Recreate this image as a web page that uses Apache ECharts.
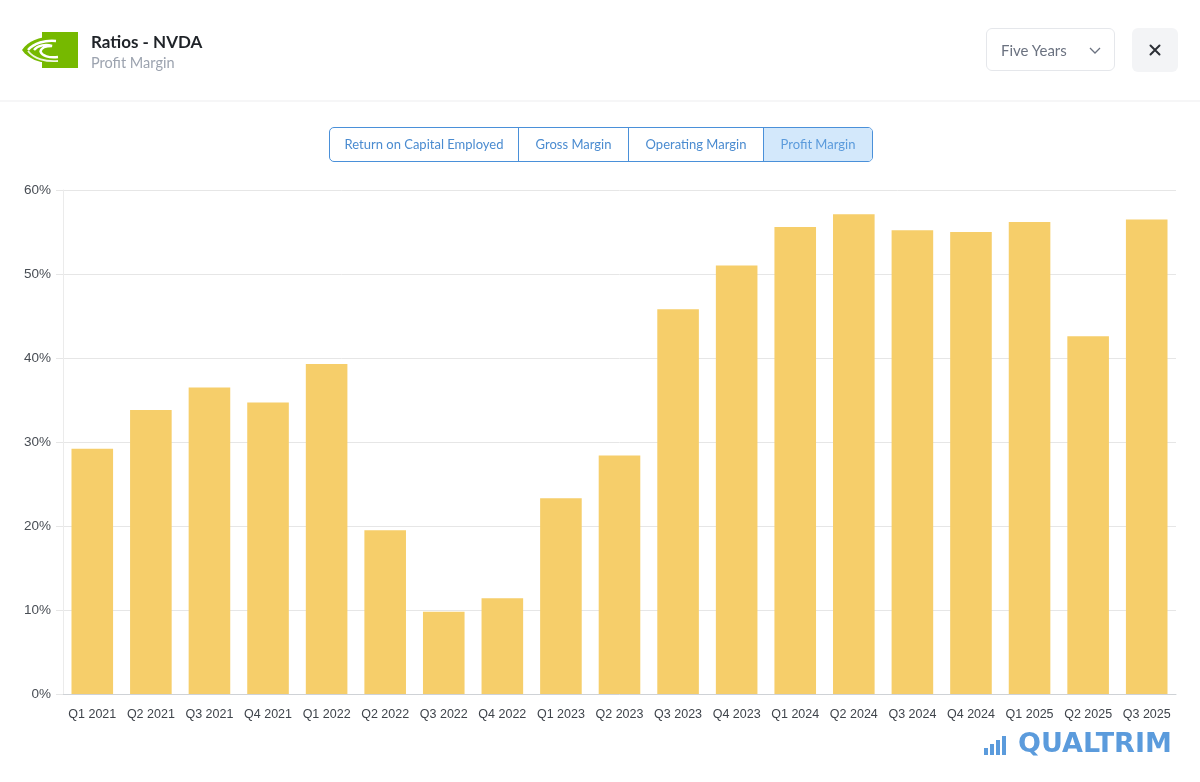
<!DOCTYPE html>
<html>
<head>
<meta charset="utf-8">
<script src="https://cdn.jsdelivr.net/npm/echarts@6/dist/echarts.min.js"></script>
<style>
  html, body { margin: 0; padding: 0; width: 1200px; height: 782px; background: #fff; overflow: hidden; font-family: Lato, "Noto Sans", sans-serif; }
  #chart { position: absolute; left: 0; top: 0; width: 1200px; height: 782px; }
  .hdr-line { position: absolute; left: 0; top: 100px; width: 1200px; height: 2px; background: #f6f6f7; }
  .title { position: absolute; left: 91px; top: 31px; font-size: 17px; font-weight: 700; color: #1f2328; }
  .subtitle { position: absolute; left: 91px; top: 54px; font-size: 14.5px; color: #9ca3af; }
  .dropdown { position: absolute; left: 986px; top: 28px; width: 129px; height: 43px; border: 1px solid #e5e7eb; border-radius: 6px; box-sizing: border-box; }
  .dropdown span { position: absolute; left: 14px; top: 12px; font-size: 15px; color: #6b7280; }
  .dropdown svg { position: absolute; left: 102px; top: 18px; }
  .close { position: absolute; left: 1132px; top: 28px; width: 46px; height: 44px; background: #f3f4f6; border-radius: 6px; }
  .close svg { position: absolute; left: 17px; top: 16px; }
  .btns { position: absolute; left: 329px; top: 127px; height: 35px; display: flex; border: 1px solid #4a90d9; border-radius: 5px; overflow: hidden; box-sizing: border-box; }
  .btns div { height: 33px; line-height: 33px; font-size: 13px; color: #4a8bd0; text-align: center; box-sizing: border-box; }
  .btns div + div { border-left: 1px solid #4a90d9; }
  .btns .active { background: #d3e8fb; color: #5b9bdc; }
</style>
</head>
<body>
<div id="chart"></div>
<div class="hdr-line"></div>
<svg style="position:absolute;left:20px;top:29px" width="62" height="42" viewBox="0 0 62 42">
  <rect x="22" y="3" width="36" height="36" fill="#76b900"/>
  <path d="M2 21 C 9 11, 22 7, 36 8 L 36 34 C 22 35, 9 31, 2 21 Z" fill="#76b900"/>
  <path d="M8 21 C 14 14, 25 11, 36 12" stroke="#fff" stroke-width="2.4" fill="none"/>
  <path d="M14 21 C 18 16, 26 15, 32 17 C 26 17, 21 19, 20.5 22.5 C 22 27, 29 29, 38 28" stroke="#fff" stroke-width="2.4" fill="none"/>
  <path d="M8 22 C 14 30, 26 33, 38 32" stroke="#eef6e0" stroke-width="1.8" fill="none"/>
</svg>
<div class="title">Ratios - NVDA</div>
<div class="subtitle">Profit Margin</div>
<div class="dropdown"><span>Five Years</span>
  <svg width="12" height="8" viewBox="0 0 12 8"><path d="M1 1 L6 6 L11 1" stroke="#6b7280" stroke-width="1.3" fill="none"/></svg>
</div>
<div class="close"><svg width="12" height="12" viewBox="0 0 12 12"><path d="M1.5 1.5 L10.5 10.5 M10.5 1.5 L1.5 10.5" stroke="#2b2f36" stroke-width="2" stroke-linecap="round"/></svg></div>
<div class="btns">
  <div style="width:188px">Return on Capital Employed</div>
  <div style="width:110px">Gross Margin</div>
  <div style="width:135px">Operating Margin</div>
  <div style="width:109px" class="active">Profit Margin</div>
</div>
<script>
const categories = ["Q1 2021","Q2 2021","Q3 2021","Q4 2021","Q1 2022","Q2 2022","Q3 2022","Q4 2022","Q1 2023","Q2 2023","Q3 2023","Q4 2023","Q1 2024","Q2 2024","Q3 2024","Q4 2024","Q1 2025","Q2 2025","Q3 2025"];
const profitMargin = [29.2, 33.8, 36.5, 34.7, 39.3, 19.5, 9.8, 11.4, 23.3, 28.4, 45.8, 51.0, 55.6, 57.1, 55.2, 55.0, 56.2, 42.6, 56.5];
const yTicks = { min: 0, max: 60, interval: 10 };

const chart = echarts.init(document.getElementById('chart'), null, { renderer: 'canvas' });
chart.setOption({
  animation: false,
  grid: { left: 63, right: 24, top: 190, bottom: 88, containLabel: false },
  xAxis: {
    type: 'category',
    data: categories,
    axisLine: { lineStyle: { color: '#cfd2d6', width: 1 } },
    axisTick: { show: false },
    axisLabel: { color: '#3f444b', fontSize: 12.5, fontFamily: 'Liberation Sans, Arial, sans-serif', margin: 14, interval: 0 }
  },
  yAxis: {
    type: 'value',
    min: yTicks.min, max: yTicks.max, interval: yTicks.interval,
    axisLine: { show: true, lineStyle: { color: '#ebebeb' } },
    axisTick: { show: true, length: 7, lineStyle: { color: '#e6e6e6' } },
    splitLine: { lineStyle: { color: '#e6e6e6' } },
    axisLabel: { formatter: '{value}%', color: '#484d54', fontSize: 13.5, fontFamily: 'Liberation Sans, Arial, sans-serif', margin: 12 }
  },
  series: [{
    type: 'bar',
    data: profitMargin,
    barCategoryGap: '29%',
    itemStyle: { color: '#f6ce6a' }
  }],
  graphic: [
    { type: 'rect', shape: { x: 984, y: 748, width: 4, height: 7 }, style: { fill: '#5b9bdc' } },
    { type: 'rect', shape: { x: 990, y: 744, width: 4, height: 11 }, style: { fill: '#5b9bdc' } },
    { type: 'rect', shape: { x: 996, y: 740, width: 4, height: 15 }, style: { fill: '#5b9bdc' } },
    { type: 'rect', shape: { x: 1002, y: 736, width: 4, height: 19 }, style: { fill: '#5b9bdc' } },
    { type: 'text', left: 1018, top: 731, style: { text: 'QUALTRIM', fill: '#5b9bdc', font: 'bold 27px "DejaVu Sans", sans-serif' } }
  ]
});
</script>
</body>
</html>
